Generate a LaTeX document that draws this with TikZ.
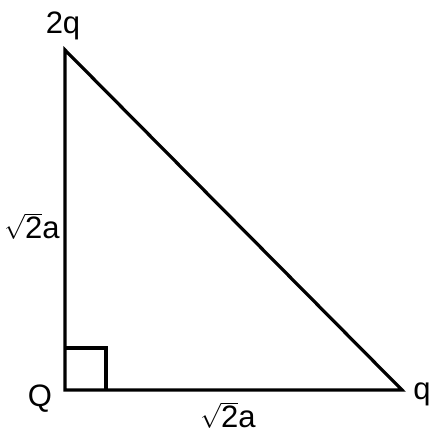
\documentclass[tikz,border=0pt]{standalone}
\usepackage{fontspec}
\setmainfont{Liberation Sans}
\usepackage{amsmath}

\begin{document}
\begin{tikzpicture}[x=1pt,y=-1pt]
        \useasboundingbox (0,0) rectangle (442,434);
        \coordinate (Atop) at (65, 50);
        \coordinate (Aleft) at (65, 390);
        \coordinate (Aright) at (402, 390);
        \coordinate (Sq1) at (65, 348);
        \coordinate (Sq2) at (106, 348);
        \coordinate (Sq3) at (106, 390);
        \begin{scope}[every node/.style={font=\fontsize{31}{31}\selectfont, inner sep=0pt}]
            \node (l2q) at (63, 26) {2q};
            \node (lQ) at (40, 399) {Q};
            \node (lq) at (422, 394) {q};
            \node (ls1) at (32, 226) {$\sqrt{\mbox{2}}$a};
            \node (ls2) at (228, 415) {$\sqrt{\mbox{2}}$a};
        \end{scope}
        \draw [draw=black, line width=3.2pt, line join=miter] (Atop) -- (Aleft) -- (Aright) -- cycle;
        \draw [draw=black, line width=3.2pt] (Sq1) -- (Sq2) -- (Sq3);
    \end{tikzpicture}
\end{document}
